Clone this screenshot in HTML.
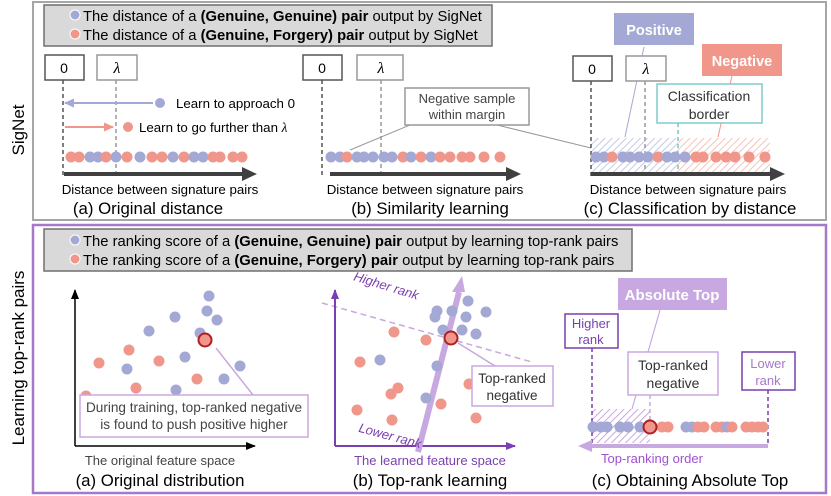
<!DOCTYPE html>
<html><head><meta charset="utf-8"><style>
html,body{margin:0;padding:0;background:#fff}
svg{display:block;font-family:"Liberation Sans","DejaVu Sans",sans-serif}
</style></head><body>
<svg width="831" height="496" viewBox="0 0 831 496" xmlns="http://www.w3.org/2000/svg">
<defs>
<pattern id="hb" width="5" height="5" patternUnits="userSpaceOnUse" patternTransform="rotate(45)"><rect width="5" height="5" fill="#fff"/><line x1="0" y1="0" x2="0" y2="5" stroke="#c5cae6" stroke-width="2"/></pattern>
<pattern id="hr" width="5" height="5" patternUnits="userSpaceOnUse" patternTransform="rotate(45)"><rect width="5" height="5" fill="#fff"/><line x1="0" y1="0" x2="0" y2="5" stroke="#f5c4bb" stroke-width="2"/></pattern>
<pattern id="hp" width="5" height="5" patternUnits="userSpaceOnUse" patternTransform="rotate(45)"><rect width="5" height="5" fill="#fff"/><line x1="0" y1="0" x2="0" y2="5" stroke="#c8a8e0" stroke-width="2"/></pattern>
<marker id="ab" markerUnits="userSpaceOnUse" markerWidth="10" markerHeight="10" refX="9" refY="5" orient="auto"><path d="M0,0.5L10,5L0,9.5z" fill="#a3a9d4"/></marker>
<marker id="ar" markerUnits="userSpaceOnUse" markerWidth="10" markerHeight="10" refX="9" refY="5" orient="auto"><path d="M0,0.5L10,5L0,9.5z" fill="#f0968a"/></marker>
<marker id="ap" markerUnits="userSpaceOnUse" markerWidth="10" markerHeight="10" refX="9" refY="5" orient="auto"><path d="M0,1L10,5L0,9z" fill="#7a3fb0"/></marker>
<marker id="abk" markerUnits="userSpaceOnUse" markerWidth="10" markerHeight="10" refX="9" refY="5" orient="auto"><path d="M0,1L10,5L0,9z" fill="#000"/></marker>
</defs>

<rect x="33" y="2" width="793" height="218" fill="none" stroke="#a6a6a6" stroke-width="2"/>
<rect x="33" y="225" width="793" height="268" fill="none" stroke="#a678cc" stroke-width="2.5"/>
<text transform="translate(24,130) rotate(-90)" text-anchor="middle" font-size="17">SigNet</text>
<text transform="translate(24,358) rotate(-90)" text-anchor="middle" font-size="17">Learning top-rank pairs</text>

<!-- legend top -->
<rect x="44" y="5" width="448" height="41" fill="#d9d9d9" stroke="#6f6f6f" stroke-width="1.5"/>
<circle cx="75" cy="15" r="5" fill="#a3a9d4" stroke="#fff"/>
<circle cx="75" cy="34" r="5" fill="#f0968a" stroke="#fff"/>
<text x="83" y="21" font-size="14.8">The distance of a <tspan font-weight="bold">(Genuine, Genuine) pair</tspan> output by SigNet</text>
<text x="83" y="40" font-size="14.8">The distance of a <tspan font-weight="bold">(Genuine, Forgery) pair</tspan> output by SigNet</text>

<!-- (a) top -->
<rect x="45" y="55" width="39" height="25" fill="#fff" stroke="#555" stroke-width="1.5"/>
<text x="64" y="73" text-anchor="middle" font-size="14">0</text>
<rect x="97" y="55" width="40" height="25" fill="#fff" stroke="#999" stroke-width="1.5"/>
<text x="117" y="73" text-anchor="middle" font-size="16" font-style="italic" font-family="Liberation Serif">λ</text>
<line x1="63" y1="80" x2="63" y2="178" stroke="#555" stroke-width="1.5" stroke-dasharray="4,3"/>
<line x1="116" y1="80" x2="116" y2="178" stroke="#999" stroke-width="1.5" stroke-dasharray="4,3"/>
<line x1="153" y1="103" x2="65" y2="103" stroke="#a3a9d4" stroke-width="2" marker-end="url(#ab)"/>
<circle cx="160" cy="103" r="5" fill="#a3a9d4"/>
<text x="176" y="108" font-size="13.3">Learn to approach 0</text>
<line x1="65" y1="127" x2="113" y2="127" stroke="#f0968a" stroke-width="2" marker-end="url(#ar)"/>
<circle cx="128" cy="127" r="5" fill="#f0968a"/>
<text x="139" y="132" font-size="13.3">Learn to go further than <tspan font-style="italic" font-family="Liberation Serif">λ</tspan></text>
<g>
<circle cx="71" cy="157" r="5.5" fill="#f0968a"/><circle cx="79" cy="157" r="5.5" fill="#f0968a"/><circle cx="90" cy="157" r="5.5" fill="#a3a9d4"/><circle cx="98" cy="157" r="5.5" fill="#a3a9d4"/><circle cx="106" cy="157" r="5.5" fill="#f0968a"/><circle cx="116" cy="157" r="5.5" fill="#a3a9d4"/><circle cx="127" cy="157" r="5.5" fill="#f0968a"/><circle cx="140" cy="157" r="5.5" fill="#a3a9d4"/><circle cx="152" cy="157" r="5.5" fill="#f0968a"/><circle cx="162" cy="157" r="5.5" fill="#f0968a"/><circle cx="173" cy="157" r="5.5" fill="#a3a9d4"/><circle cx="184" cy="157" r="5.5" fill="#f0968a"/><circle cx="194" cy="157" r="5.5" fill="#a3a9d4"/><circle cx="203" cy="157" r="5.5" fill="#a3a9d4"/><circle cx="213" cy="157" r="5.5" fill="#f0968a"/><circle cx="220" cy="157" r="5.5" fill="#f0968a"/><circle cx="233" cy="157" r="5.5" fill="#f0968a"/><circle cx="242" cy="157" r="5.5" fill="#f0968a"/>
</g>
<line x1="64" y1="174" x2="244" y2="174" stroke="#404040" stroke-width="4"/>
<path d="M242,167 L257,174 L242,181 Z" fill="#404040"/>
<text x="160" y="194" text-anchor="middle" font-size="13.3">Distance between signature pairs</text>
<text x="148" y="214" text-anchor="middle" font-size="16.8">(a) Original distance</text>

<!-- (b) top -->
<rect x="303" y="55" width="39" height="25" fill="#fff" stroke="#555" stroke-width="1.5"/>
<text x="322" y="73" text-anchor="middle" font-size="14">0</text>
<rect x="357" y="55" width="46" height="25" fill="#fff" stroke="#999" stroke-width="1.5"/>
<text x="381" y="73" text-anchor="middle" font-size="16" font-style="italic" font-family="Liberation Serif">λ</text>
<line x1="322" y1="80" x2="322" y2="178" stroke="#555" stroke-width="1.5" stroke-dasharray="4,3"/>
<line x1="381" y1="80" x2="381" y2="178" stroke="#999" stroke-width="1.5" stroke-dasharray="4,3"/>
<line x1="350" y1="150" x2="410" y2="125" stroke="#999" stroke-width="1"/>
<line x1="497" y1="125" x2="591" y2="148" stroke="#999" stroke-width="1"/>
<rect x="405" y="88" width="124" height="37" fill="#fff" stroke="#999" stroke-width="1.5"/>
<text x="467" y="103" text-anchor="middle" font-size="13" fill="#444">Negative sample</text>
<text x="467" y="119" text-anchor="middle" font-size="13" fill="#444">within margin</text>
<g>
<circle cx="331" cy="157" r="5.5" fill="#a3a9d4"/><circle cx="340" cy="157" r="5.5" fill="#a3a9d4"/><circle cx="347" cy="157" r="5.5" fill="#f0968a"/><circle cx="357" cy="157" r="5.5" fill="#a3a9d4"/><circle cx="364" cy="157" r="5.5" fill="#a3a9d4"/><circle cx="373" cy="157" r="5.5" fill="#a3a9d4"/><circle cx="384" cy="157" r="5.5" fill="#a3a9d4"/><circle cx="392" cy="157" r="5.5" fill="#a3a9d4"/><circle cx="403" cy="157" r="5.5" fill="#f0968a"/><circle cx="411" cy="157" r="5.5" fill="#a3a9d4"/><circle cx="421" cy="157" r="5.5" fill="#f0968a"/><circle cx="431" cy="157" r="5.5" fill="#a3a9d4"/><circle cx="440" cy="157" r="5.5" fill="#f0968a"/><circle cx="450" cy="157" r="5.5" fill="#f0968a"/><circle cx="462" cy="157" r="5.5" fill="#f0968a"/><circle cx="470" cy="157" r="5.5" fill="#f0968a"/><circle cx="484" cy="157" r="5.5" fill="#f0968a"/><circle cx="500" cy="157" r="5.5" fill="#f0968a"/>
</g>
<line x1="330" y1="174" x2="508" y2="174" stroke="#404040" stroke-width="4"/>
<path d="M506,167 L521,174 L506,181 Z" fill="#404040"/>
<text x="425" y="194" text-anchor="middle" font-size="13.3">Distance between signature pairs</text>
<text x="430" y="214" text-anchor="middle" font-size="16.8">(b) Similarity learning</text>

<!-- (c) top -->
<rect x="591" y="138" width="87" height="37" fill="url(#hb)"/>
<rect x="678" y="138" width="92" height="37" fill="url(#hr)"/>
<line x1="644" y1="47" x2="625" y2="137" stroke="#a3a9d4" stroke-width="1"/>
<line x1="732" y1="76" x2="718" y2="137" stroke="#f0968a" stroke-width="1"/>
<rect x="614" y="13" width="80" height="32" fill="#a3a9d4"/>
<text x="654" y="35" text-anchor="middle" font-size="14.5" font-weight="bold" fill="#fff">Positive</text>
<rect x="702" y="44" width="80" height="32" fill="#f0968a"/>
<text x="742" y="66" text-anchor="middle" font-size="14.5" font-weight="bold" fill="#fff">Negative</text>
<rect x="573" y="56" width="39" height="25" fill="#fff" stroke="#555" stroke-width="1.5"/>
<text x="592" y="74" text-anchor="middle" font-size="14">0</text>
<rect x="626" y="56" width="40" height="25" fill="#fff" stroke="#999" stroke-width="1.5"/>
<text x="646" y="74" text-anchor="middle" font-size="16" font-style="italic" font-family="Liberation Serif">λ</text>
<line x1="591" y1="81" x2="591" y2="178" stroke="#555" stroke-width="1.5" stroke-dasharray="4,3"/>
<line x1="645" y1="81" x2="645" y2="178" stroke="#999" stroke-width="1.5" stroke-dasharray="4,3"/>
<line x1="678" y1="123" x2="678" y2="175" stroke="#70c8c8" stroke-width="1.5" stroke-dasharray="4,3"/>
<rect x="657" y="84" width="105" height="39" fill="#fff" stroke="#80cccc" stroke-width="1.5"/>
<text x="709" y="101" text-anchor="middle" font-size="14" fill="#333">Classification</text>
<text x="709" y="119" text-anchor="middle" font-size="14" fill="#333">border</text>
<g>
<circle cx="596" cy="157" r="5.5" fill="#a3a9d4"/><circle cx="604" cy="157" r="5.5" fill="#a3a9d4"/><circle cx="612" cy="157" r="5.5" fill="#f0968a"/><circle cx="623" cy="157" r="5.5" fill="#a3a9d4"/><circle cx="630" cy="157" r="5.5" fill="#a3a9d4"/><circle cx="639" cy="157" r="5.5" fill="#a3a9d4"/><circle cx="648" cy="157" r="5.5" fill="#a3a9d4"/><circle cx="658" cy="157" r="5.5" fill="#f0968a"/><circle cx="667" cy="157" r="5.5" fill="#a3a9d4"/><circle cx="675" cy="157" r="5.5" fill="#a3a9d4"/><circle cx="685" cy="157" r="5.5" fill="#a3a9d4"/><circle cx="696" cy="157" r="5.5" fill="#f0968a"/><circle cx="703" cy="157" r="5.5" fill="#f0968a"/><circle cx="716" cy="157" r="5.5" fill="#f0968a"/><circle cx="726" cy="157" r="5.5" fill="#f0968a"/><circle cx="735" cy="157" r="5.5" fill="#f0968a"/><circle cx="749" cy="157" r="5.5" fill="#f0968a"/><circle cx="765" cy="157" r="5.5" fill="#f0968a"/>
</g>
<line x1="591" y1="174" x2="772" y2="174" stroke="#404040" stroke-width="4"/>
<path d="M770,167 L785,174 L770,181 Z" fill="#404040"/>
<text x="688" y="194" text-anchor="middle" font-size="13.3">Distance between signature pairs</text>
<text x="690" y="214" text-anchor="middle" font-size="16.8">(c) Classification by distance</text>

<!-- legend bottom -->
<rect x="44" y="229" width="588" height="42" fill="#d9d9d9" stroke="#6f6f6f" stroke-width="1.5"/>
<circle cx="75" cy="240" r="5" fill="#a3a9d4" stroke="#fff"/>
<circle cx="75" cy="259" r="5" fill="#f0968a" stroke="#fff"/>
<text x="83" y="246" font-size="14.8">The ranking score of a <tspan font-weight="bold">(Genuine, Genuine) pair</tspan> output by learning top-rank pairs</text>
<text x="83" y="265" font-size="14.8">The ranking score of a <tspan font-weight="bold">(Genuine, Forgery) pair</tspan> output by learning top-rank pairs</text>

<!-- (a) bottom -->
<line x1="75" y1="446" x2="75" y2="290" stroke="#000" stroke-width="1.5" marker-end="url(#abk)"/>
<line x1="75" y1="446" x2="255" y2="446" stroke="#000" stroke-width="1.5" marker-end="url(#abk)"/>
<g fill="#a3a9d4">
<circle cx="209" cy="296" r="5.5"/><circle cx="207" cy="311" r="5.5"/><circle cx="175" cy="317" r="5.5"/><circle cx="217" cy="320" r="5.5"/><circle cx="149" cy="331" r="5.5"/><circle cx="200" cy="333" r="5.5"/><circle cx="185" cy="357" r="5.5"/><circle cx="127" cy="369" r="5.5"/><circle cx="240" cy="366" r="5.5"/><circle cx="224" cy="379" r="5.5"/><circle cx="176" cy="390" r="5.5"/>
</g>
<g fill="#f0968a">
<circle cx="129" cy="350" r="5.5"/><circle cx="99" cy="363" r="5.5"/><circle cx="159" cy="361" r="5.5"/><circle cx="136" cy="388" r="5.5"/><circle cx="197" cy="379" r="5.5"/><circle cx="86" cy="396" r="5.5"/>
</g>
<line x1="216" y1="348" x2="253" y2="395" stroke="#c8a8e0" stroke-width="1.5"/>
<circle cx="205" cy="340" r="6.5" fill="#f0968a" stroke="#b02020" stroke-width="2"/>
<rect x="80" y="395" width="228" height="42" fill="#fff" stroke="#c8a8e0" stroke-width="1.5"/>
<text x="194" y="412" text-anchor="middle" font-size="13.6" fill="#444">During training, top-ranked negative</text>
<text x="194" y="429" text-anchor="middle" font-size="13.6" fill="#444">is found to push positive higher</text>
<text x="160" y="465" text-anchor="middle" font-size="13" fill="#444">The original feature space</text>
<text x="160" y="486" text-anchor="middle" font-size="16.8">(a) Original distribution</text>

<!-- (b) bottom -->
<line x1="322" y1="303" x2="532" y2="362" stroke="#c8a8e0" stroke-width="1.5" stroke-dasharray="6,4"/>
<line x1="335" y1="446" x2="335" y2="290" stroke="#7a3fb0" stroke-width="2" marker-end="url(#ap)"/>
<line x1="335" y1="446" x2="515" y2="446" stroke="#7a3fb0" stroke-width="2" marker-end="url(#ap)"/>
<line x1="418" y1="452" x2="459" y2="292" stroke="#c8a8e0" stroke-width="6"/>
<path d="M452,292 L465,292 L462,276 Z" fill="#c8a8e0"/>
<g fill="#a3a9d4">
<circle cx="468" cy="301" r="5.5"/><circle cx="437" cy="311" r="5.5"/><circle cx="452" cy="311" r="5.5"/><circle cx="486" cy="312" r="5.5"/><circle cx="435" cy="317" r="5.5"/><circle cx="466" cy="317" r="5.5"/><circle cx="443" cy="330" r="5.5"/><circle cx="462" cy="330" r="5.5"/><circle cx="476" cy="334" r="5.5"/><circle cx="380" cy="360" r="5.5"/><circle cx="437" cy="366" r="5.5"/><circle cx="426" cy="398" r="5.5"/>
</g>
<g fill="#f0968a">
<circle cx="394" cy="332" r="5.5"/><circle cx="426" cy="340" r="5.5"/><circle cx="360" cy="362" r="5.5"/><circle cx="398" cy="388" r="5.5"/><circle cx="391" cy="394" r="5.5"/><circle cx="357" cy="410" r="5.5"/><circle cx="392" cy="420" r="5.5"/><circle cx="441" cy="404" r="5.5"/><circle cx="469" cy="384" r="5.5"/><circle cx="476" cy="418" r="5.5"/>
</g>
<line x1="458" y1="343" x2="495" y2="366" stroke="#c8a8e0" stroke-width="1.5"/>
<circle cx="451" cy="338" r="6.5" fill="#f0968a" stroke="#b02020" stroke-width="2"/>
<rect x="472" y="366" width="81" height="40" fill="#fff" stroke="#c8a8e0" stroke-width="1.5"/>
<text x="512" y="383" text-anchor="middle" font-size="13.5" fill="#333">Top-ranked</text>
<text x="512" y="400" text-anchor="middle" font-size="13.5" fill="#333">negative</text>
<text transform="translate(385,290) rotate(17)" text-anchor="middle" font-size="13" fill="#7a3fb0" font-style="italic">Higher rank</text>
<text transform="translate(389,440) rotate(15)" text-anchor="middle" font-size="13" fill="#7a3fb0" font-style="italic">Lower rank</text>
<text x="430" y="465" text-anchor="middle" font-size="13" fill="#7a3fb0">The learned feature space</text>
<text x="430" y="486" text-anchor="middle" font-size="16.8">(b) Top-rank learning</text>

<!-- (c) bottom -->
<rect x="592" y="409" width="58" height="34" fill="url(#hp)"/>
<line x1="660" y1="310" x2="648" y2="352" stroke="#c8a8e0" stroke-width="1.2"/>
<line x1="636" y1="395" x2="632" y2="409" stroke="#c8a8e0" stroke-width="1.2"/>
<rect x="618" y="278" width="109" height="32" fill="#c8a8e0"/>
<text x="672" y="300" text-anchor="middle" font-size="15" font-weight="bold" fill="#fff">Absolute Top</text>
<rect x="565" y="314" width="53" height="34" fill="#fff" stroke="#7a3fb0" stroke-width="1.5"/>
<text x="591" y="328" text-anchor="middle" font-size="13" fill="#7a3fb0">Higher</text>
<text x="591" y="344" text-anchor="middle" font-size="13" fill="#7a3fb0">rank</text>
<line x1="592" y1="348" x2="592" y2="444" stroke="#7a3fb0" stroke-width="1.5" stroke-dasharray="4,3"/>
<rect x="628" y="352" width="90" height="43" fill="#fff" stroke="#c8a8e0" stroke-width="1.5"/>
<text x="673" y="370" text-anchor="middle" font-size="14" fill="#333">Top-ranked</text>
<text x="673" y="388" text-anchor="middle" font-size="14" fill="#333">negative</text>
<line x1="650" y1="395" x2="650" y2="420" stroke="#c8a8e0" stroke-width="1.5" stroke-dasharray="4,3"/>
<rect x="742" y="352" width="53" height="38" fill="#fff" stroke="#7a3fb0" stroke-width="1.5"/>
<text x="768" y="368" text-anchor="middle" font-size="13" fill="#a678cc">Lower</text>
<text x="768" y="385" text-anchor="middle" font-size="13" fill="#a678cc">rank</text>
<line x1="768" y1="390" x2="768" y2="444" stroke="#7a3fb0" stroke-width="1.5" stroke-dasharray="4,3"/>
<g>
<circle cx="593" cy="427" r="5.5" fill="#a3a9d4"/><circle cx="601" cy="427" r="5.5" fill="#a3a9d4"/><circle cx="607" cy="427" r="5.5" fill="#a3a9d4"/><circle cx="620" cy="427" r="5.5" fill="#a3a9d4"/><circle cx="628" cy="427" r="5.5" fill="#a3a9d4"/><circle cx="640" cy="427" r="5.5" fill="#a3a9d4"/><circle cx="662" cy="427" r="5.5" fill="#f0968a"/><circle cx="668" cy="427" r="5.5" fill="#f0968a"/><circle cx="686" cy="427" r="5.5" fill="#a3a9d4"/><circle cx="692" cy="427" r="5.5" fill="#a3a9d4"/><circle cx="698" cy="427" r="5.5" fill="#f0968a"/><circle cx="704" cy="427" r="5.5" fill="#f0968a"/><circle cx="716" cy="427" r="5.5" fill="#f0968a"/><circle cx="722" cy="427" r="5.5" fill="#f0968a"/><circle cx="727" cy="427" r="5.5" fill="#a3a9d4"/><circle cx="732" cy="427" r="5.5" fill="#f0968a"/><circle cx="746" cy="427" r="5.5" fill="#f0968a"/><circle cx="752" cy="427" r="5.5" fill="#f0968a"/><circle cx="758" cy="427" r="5.5" fill="#f0968a"/><circle cx="763" cy="427" r="5.5" fill="#f0968a"/>
</g>
<circle cx="650" cy="427" r="6.5" fill="#f0968a" stroke="#b02020" stroke-width="2"/>
<line x1="768" y1="446" x2="592" y2="446" stroke="#c8a8e0" stroke-width="4"/>
<path d="M592,440 L578,446 L592,452 Z" fill="#c8a8e0"/>
<text x="652" y="463" text-anchor="middle" font-size="13" fill="#a050d0">Top-ranking order</text>
<text x="690" y="486" text-anchor="middle" font-size="16.8">(c) Obtaining Absolute Top</text>
</svg>
</body></html>
